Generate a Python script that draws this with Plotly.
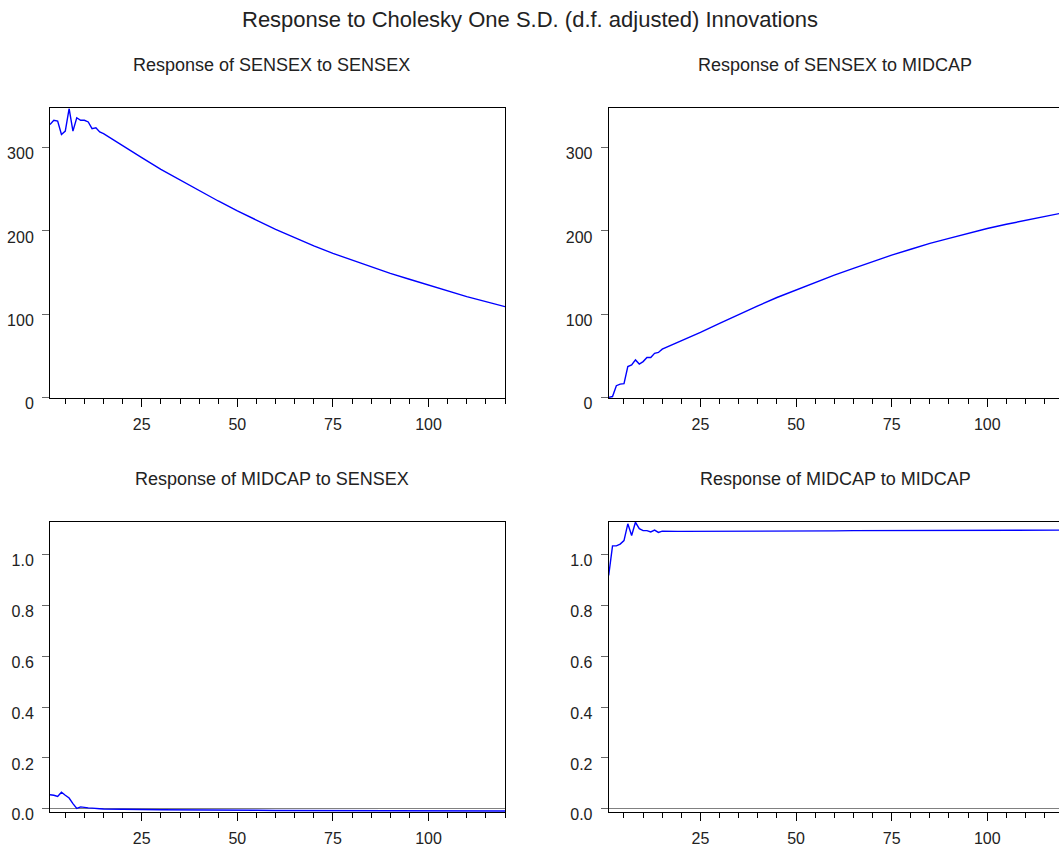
import plotly.graph_objects as go

W, H = 1059, 856

# ---------------- data ----------------
periods = list(range(1, 21)) + list(range(25, 121, 5))

sensex_to_sensex = [328, 333, 332, 316, 320, 347, 320, 336, 333, 333,
                    331, 323, 324, 319, 317, 314, 311, 309, 306, 302,
                    288, 274, 261, 248, 236, 224, 213, 202, 192, 182,
                    173, 165, 157, 149, 142, 135, 128, 121, 115, 109]

sensex_to_midcap = [0, 1, 14, 16, 16.5, 37, 39, 45, 40, 43,
                    48, 48, 53, 54, 58, 60, 62, 64.5, 66, 68,
                    78, 89, 100, 110, 120, 129, 138, 147, 155, 163,
                    171, 178, 185, 191, 197, 203, 208, 213, 218, 222]

midcap_to_sensex = [0.055, 0.053, 0.048, 0.065, 0.053, 0.042, 0.020, 0.001, 0.007, 0.004,
                    0.003, 0.002, 0.000, 0.000, -0.001, -0.001, -0.002, -0.002, -0.002, -0.003,
                    -0.003, -0.004, -0.004, -0.005, -0.005, -0.006, -0.006, -0.007, -0.007, -0.007,
                    -0.008, -0.008, -0.008, -0.008, -0.009, -0.009, -0.009, -0.009, -0.009, -0.009]

midcap_to_midcap = [0.919, 1.035, 1.035, 1.042, 1.056, 1.122, 1.076, 1.128, 1.103, 1.095,
                    1.095, 1.090, 1.097, 1.088, 1.093, 1.092, 1.093, 1.092, 1.092, 1.092,
                    1.092, 1.093, 1.093, 1.093, 1.094, 1.094, 1.094, 1.094, 1.095, 1.095,
                    1.095, 1.095, 1.096, 1.096, 1.096, 1.096, 1.096, 1.097, 1.097, 1.097]

main_title = "Response to Cholesky One S.D. (d.f. adjusted) Innovations"
panel_titles = ["Response of SENSEX to SENSEX", "Response of SENSEX to MIDCAP",
                "Response of MIDCAP to SENSEX", "Response of MIDCAP to MIDCAP"]
x_tickvals = [25, 50, 75, 100]
top_tickvals = [0, 100, 200, 300]
bottom_tickvals = [0.0, 0.2, 0.4, 0.6, 0.8, 1.0]

# ---------------- layout geometry ----------------
FONT = "Arial, Liberation Sans, sans-serif"
TXT = "#222222"
px_per_period = 455 / 119.0

xl = [50 / W, 505 / W]
xr = [608.7 / W, 1.0]
x_range_left = [1, 120]
x_range_right = [1, 1 + (W - 608.7) / px_per_period]
y_top = [1 - 405 / H, 1 - 110 / H]
y_bot = [1 - 826 / H, 1 - 530.7 / H]
top_range = [-1.2, 347.5]
bot_range = [-0.015, 1.129]

fig = go.Figure()
series = [sensex_to_sensex, sensex_to_midcap, midcap_to_sensex, midcap_to_midcap]
for i, s in enumerate(series):
    n = i + 1
    fig.add_trace(go.Scatter(
        x=periods, y=s, mode="lines",
        line=dict(color="#0000FF", width=1.4),
        xaxis="x" if n == 1 else f"x{n}",
        yaxis="y" if n == 1 else f"y{n}",
        showlegend=False, hoverinfo="x+y"))


def xaxis(domain, rng, anchor):
    return dict(
        domain=domain, range=rng, anchor=anchor,
        showline=True, linecolor="black", linewidth=1, mirror=True,
        showgrid=False, zeroline=False,
        tickmode="array", tickvals=x_tickvals,
        ticks="outside", ticklen=8, tickcolor="black", tickwidth=1,
        minor=dict(ticks="outside", ticklen=5, tickcolor="black", tickwidth=1,
                   tickmode="linear", tick0=0, dtick=5, showgrid=False),
        tickfont=dict(family=FONT, size=16, color=TXT),
        ticklabelstandoff=3,
    )


def yaxis(domain, rng, anchor, tickvals, fmt, mirror, zero):
    return dict(
        domain=domain, range=rng, anchor=anchor,
        showline=True, linecolor="black", linewidth=1, mirror=mirror,
        showgrid=False,
        zeroline=zero, zerolinecolor="#808080", zerolinewidth=1,
        tickmode="array", tickvals=tickvals, tickformat=fmt,
        ticks="outside", ticklen=7, tickcolor="#666666", tickwidth=1,
        tickfont=dict(family=FONT, size=16, color=TXT),
        ticklabelstandoff=5, ticklabelshift=6,
    )


fig.update_layout(
    width=W, height=H,
    margin=dict(l=0, r=0, t=0, b=0),
    paper_bgcolor="white", plot_bgcolor="white",
    xaxis=xaxis(xl, x_range_left, "y"),
    xaxis2=xaxis(xr, x_range_right, "y2"),
    xaxis3=xaxis(xl, x_range_left, "y3"),
    xaxis4=xaxis(xr, x_range_right, "y4"),
    yaxis=yaxis(y_top, top_range, "x", top_tickvals, "d", True, False),
    yaxis2=yaxis(y_top, top_range, "x2", top_tickvals, "d", False, False),
    yaxis3=yaxis(y_bot, bot_range, "x3", bottom_tickvals, ".1f", True, True),
    yaxis4=yaxis(y_bot, bot_range, "x4", bottom_tickvals, ".1f", False, True),
)

annotations = [dict(text=main_title, x=0.5, y=1 - 20 / H, xref="paper", yref="paper",
                    xanchor="center", yanchor="middle", showarrow=False,
                    font=dict(family=FONT, size=22, color=TXT))]
title_pos = [(271.5 / W, 1 - 66 / H), (835 / W, 1 - 66 / H),
             (271.5 / W, 1 - 487 / H), (835 / W, 1 - 487 / H)]
for t, (x, y) in zip(panel_titles, title_pos):
    annotations.append(dict(text=t, x=x, y=y, xref="paper", yref="paper",
                            xanchor="center", yanchor="middle", showarrow=False,
                            font=dict(family=FONT, size=18, color=TXT)))
fig.update_layout(annotations=annotations)

fig.write_html("out.html", config={"displayModeBar": False},
               post_script="document.body.style.margin='0';")
